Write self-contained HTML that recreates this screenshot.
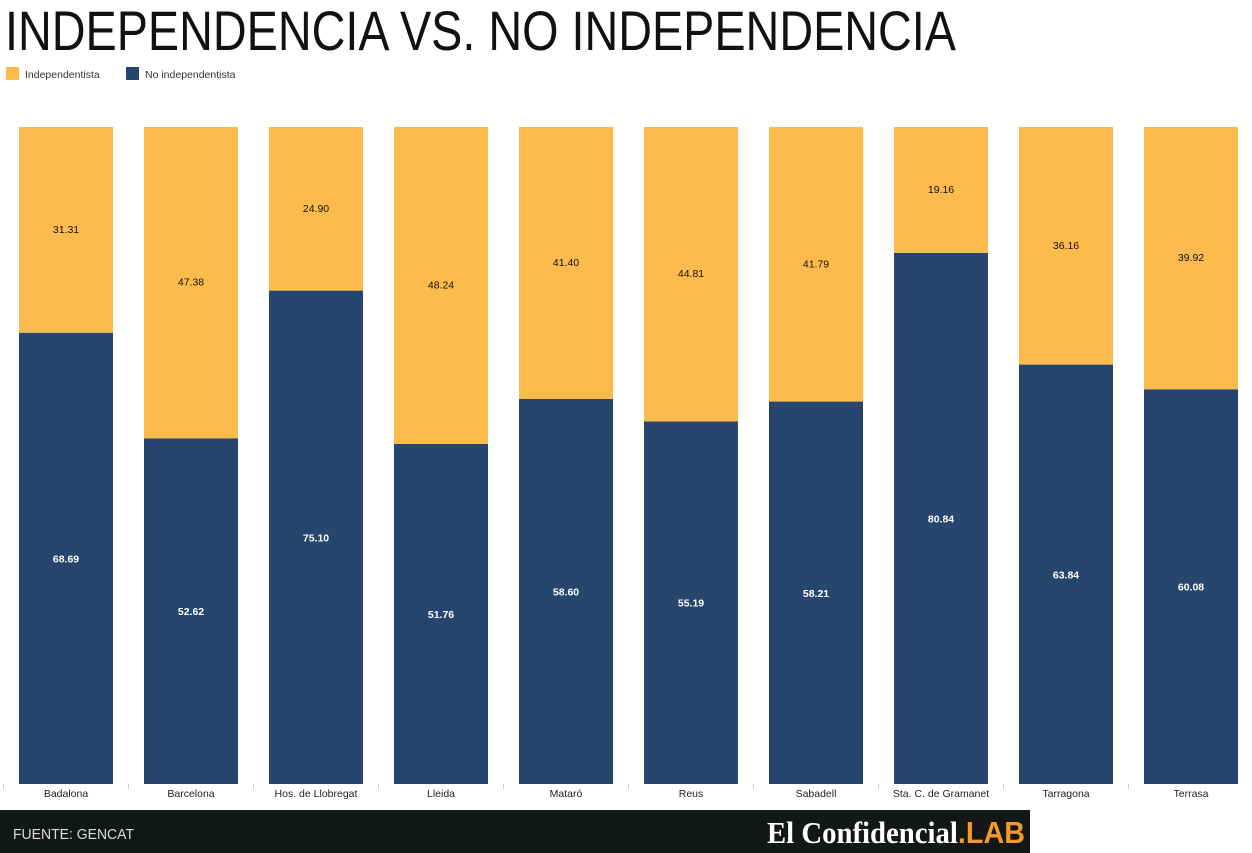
<!DOCTYPE html>
<html><head><meta charset="utf-8"><style>
body{margin:0;background:#fff}
svg{display:block;font-family:"Liberation Sans",sans-serif}
</style></head><body>
<svg width="1252" height="853" viewBox="0 0 1252 853" id="c">
<rect x="0" y="0" width="1252" height="853" fill="#fff"/>
<text x="5" y="50" font-size="56" textLength="951" lengthAdjust="spacingAndGlyphs" fill="#111">INDEPENDENCIA VS. NO INDEPENDENCIA</text>
<g>
<rect x="6" y="67" width="13" height="13" fill="#fdbb4e"/>
<text x="25" y="78" font-size="10.5" fill="#333">Independentista</text>
<rect x="126" y="67" width="13" height="13" fill="#26466e"/>
<text x="145" y="78" font-size="10.5" fill="#333">No independentista</text>
</g>
<g id="plot"></g>
<rect x="0" y="810" width="1030" height="43" fill="#131716"/>
<text x="13" y="839" font-size="15" textLength="121" lengthAdjust="spacingAndGlyphs" fill="#ddd">FUENTE: GENCAT</text>
<text x="767" y="843" textLength="258" lengthAdjust="spacingAndGlyphs" font-family="Liberation Serif,serif" font-weight="bold" font-size="31" fill="#fff">El Confidencial<tspan fill="#f39a2b" font-family="Liberation Sans,sans-serif">.LAB</tspan></text>
</svg>
<script>
const categories=["Badalona","Barcelona","Hos. de Llobregat","Lleida","Mataró","Reus","Sabadell","Sta. C. de Gramanet","Tarragona","Terrasa"];
const indep=[31.31,47.38,24.90,48.24,41.40,44.81,41.79,19.16,36.16,39.92];
const noIndep=[68.69,52.62,75.10,51.76,58.60,55.19,58.21,80.84,63.84,60.08];
const NS="http://www.w3.org/2000/svg";
const g=document.getElementById('plot');
const top0=127,bot=784,step=125,x0=19,bw=94;
const y=v=>bot-(v/100)*(bot-top0);
const xb=i=>x0+i*step;
function mk(t,a){const e=document.createElementNS(NS,t);for(const k in a)e.setAttribute(k,a[k]);g.appendChild(e);return e;}
categories.forEach((c,i)=>{
  const x=xb(i);
  const n=noIndep[i],d=indep[i];
  let r=mk('rect',{x:x,y:y(n),width:bw,height:bot-y(n),fill:'#26466e'});
  
  
  r=mk('rect',{x:x,y:y(n+d),width:bw,height:y(n)-y(n+d),fill:'#fdbb4e'});
  
  
  let t=mk('text',{x:x+bw/2,y:(y(n)+bot)/2+4,'text-anchor':'middle','font-size':10.5,'font-weight':'bold',fill:'#fff'});
  t.textContent=n.toFixed(2);
  
  
  t=mk('text',{x:x+bw/2,y:(y(n+d)+y(n))/2+3,'text-anchor':'middle','font-size':10.5,fill:'#111'});
  t.textContent=d.toFixed(2);
  
  
  t=mk('text',{x:x+bw/2,y:797,'text-anchor':'middle','font-size':10.5,fill:'#222'});
  t.textContent=c;
  
  
  const tk=mk('line',{x1:x-15.5,x2:x-15.5,y1:784,y2:789,stroke:'#ccc'});
  
  
});
</script>
</body></html>
